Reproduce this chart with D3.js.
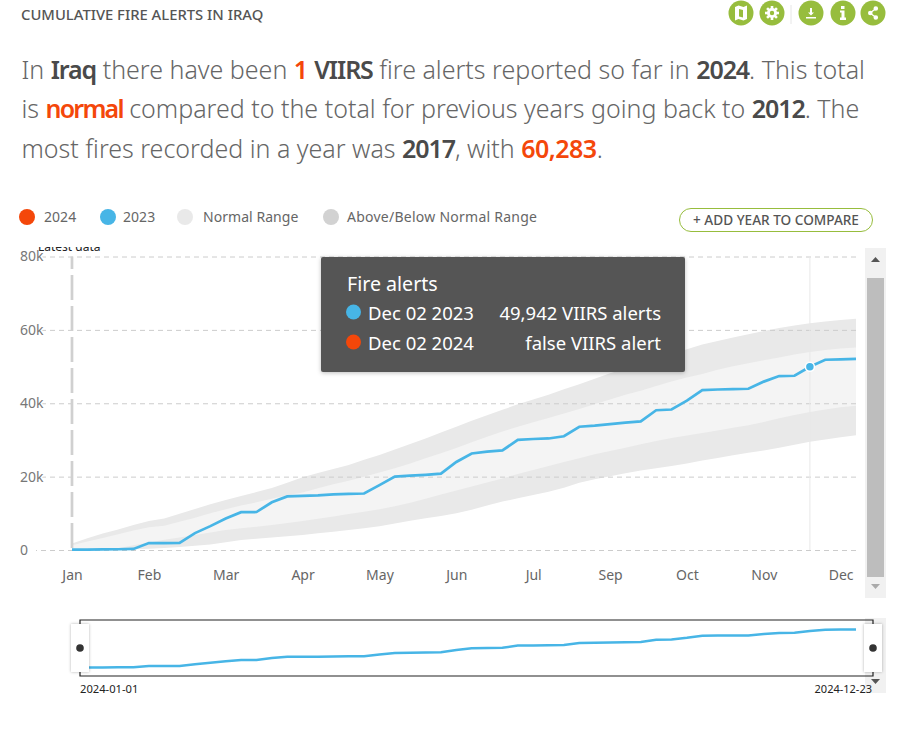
<!DOCTYPE html>
<html>
<head>
<meta charset="utf-8">
<script src="https://cdn.jsdelivr.net/npm/d3@7"></script>
<style>
  html, body { margin: 0; padding: 0; background: #fff; }
  svg { display: block; font-family: "Noto Sans", "Open Sans", sans-serif; }
</style>
</head>
<body>
<svg id="chart" width="910" height="737"></svg>
<script>
const monthLabels = ['Jan', 'Feb', 'Mar', 'Apr', 'May', 'Jun', 'Jul', 'Sep', 'Oct', 'Nov', 'Dec'];
const yTicks = [0, 20000, 40000, 60000, 80000];

// weekly cumulative alerts
const alerts2023 = [100, 120, 150, 200, 300, 1900, 1900, 1950, 4600, 6500, 8600, 10300, 10350, 13000, 14600, 14750, 14900, 15150, 15300, 15400, 17700, 20000, 20250, 20500, 20800, 24000, 26300, 26800, 27150, 30000, 30250, 30400, 31000, 33600, 33900, 34300, 34700, 35050, 38100, 38300, 40700, 43600, 43750, 43850, 43950, 45900, 47400, 47500, 49942, 51850, 51950, 52100];
const upperOuter = [1800, 3200, 4500, 5600, 6800, 7900, 8600, 9900, 11200, 12500, 13600, 14700, 15800, 16900, 18300, 19800, 21000, 22100, 23200, 24600, 25900, 27400, 28900, 30400, 32000, 33600, 35200, 36700, 38200, 39700, 41000, 42300, 43800, 45200, 46700, 48200, 49500, 50800, 52200, 53500, 54700, 56000, 57000, 57900, 58800, 59700, 60500, 61200, 61800, 62300, 62700, 63000];
const upperInner = [1300, 2300, 3300, 4300, 5300, 6200, 6600, 7700, 8800, 10000, 11100, 12100, 13000, 14000, 14900, 15700, 16800, 17900, 18900, 20000, 21100, 22250, 23600, 25000, 26400, 27800, 29400, 30900, 32300, 33600, 34800, 36000, 37200, 38400, 39700, 41000, 42300, 43400, 44700, 45900, 47000, 48000, 49100, 50100, 50900, 51700, 52500, 53300, 54000, 54500, 54900, 55200];
const lowerInner = [0, 100, 200, 500, 1300, 2000, 2800, 3400, 4100, 4800, 5450, 5900, 6350, 6800, 7350, 7900, 8500, 9150, 9800, 10450, 11100, 11900, 12900, 14000, 15100, 16200, 17300, 18400, 19500, 20700, 21800, 22900, 24000, 25000, 26100, 27000, 27900, 28800, 29700, 30500, 31200, 31900, 32600, 33300, 34000, 34900, 35900, 36800, 37600, 38300, 38900, 39300];
const lowerOuter = [0, 50, 100, 150, 200, 350, 550, 800, 1150, 1500, 2100, 2700, 3050, 3400, 3750, 4100, 4550, 5000, 5450, 5950, 6500, 7200, 8000, 8650, 9300, 10000, 11000, 12100, 13200, 14100, 15000, 15900, 17000, 18300, 19300, 20100, 20900, 21700, 22300, 22900, 23600, 24400, 25100, 25800, 26500, 27100, 27900, 28700, 29500, 30100, 30700, 31300];

const legendItems = ['2024', '2023', 'Normal Range', 'Above/Below Normal Range'];
const hoverWeek = 48;

const paragraph = [
  [['In ', 0], ['Iraq', 1], [' there have been ', 0], ['1', 2], [' ', 0], ['VIIRS', 1], [' fire alerts reported so far in ', 0], ['2024', 1], ['. This total', 0]],
  [['is ', 0], ['normal', 3], [' compared to the total for previous years going back to ', 0], ['2012', 1], ['. The', 0]],
  [['most fires recorded in a year was ', 0], ['2017', 1], [', with ', 0], ['60,283', 2], ['.', 0]]
];

const grey = '#555', green = '#97bd3d', blue = '#47b5e6', orange = '#f4470a';
const svg = d3.select('#chart');
const weeks = d3.range(alerts2023.length);

const x = d3.scalePoint().domain(weeks).range([72, 856]);
const y = d3.scaleLinear().domain([0, 80000]).range([550, 256.5]);

// header
svg.append('text').attr('x', 21).attr('y', 20)
  .attr('font-size', 14.8).attr('font-weight', 500).attr('fill', grey)
  .text('CUMULATIVE FIRE ALERTS IN IRAQ');

const iconX = [741, 772, 811, 843, 873];
svg.selectAll('.icon').data(iconX).enter().append('circle')
  .attr('class', 'icon').attr('cx', d => d).attr('cy', 13).attr('r', 12.5).attr('fill', green);
svg.append('line').attr('x1', 791).attr('x2', 791).attr('y1', 5).attr('y2', 24).attr('stroke', '#e6e6e6');
const glyph = (d, tx) => svg.append('path').attr('d', d).attr('transform', `translate(${tx},13)`).attr('fill', '#fff');
glyph('M-6,-6L-2.5,-7.5L2.5,-6L6,-7.5L6,6L2.5,7.5L-2.5,6L-6,7.5Z M-2,-4L2,-3L2,4.5L-2,3.5Z', 741).attr('fill-rule', 'evenodd');
glyph(d3.arc().innerRadius(2.2).outerRadius(5)({startAngle: 0, endAngle: 2 * Math.PI}), 772).attr('fill-rule', 'evenodd');
d3.range(8).forEach(i => svg.append('rect').attr('x', -1.3).attr('y', -7).attr('width', 2.6).attr('height', 3)
  .attr('fill', '#fff').attr('transform', `translate(772,13) rotate(${i * 45})`));
glyph('M-1,-5L1,-5L1,-0.5L3,-0.5L0,2.5L-3,-0.5L-1,-0.5Z M-5,4L5,4L5,5.5L-5,5.5Z', 811);
glyph('M-2,-7L1.5,-7L1.5,-4L-2,-4Z M-3,-2.5L1.5,-2.5L1.5,4.5L3,4.5L3,7L-3,7L-3,4.5L-1.5,4.5L-1.5,-0.5L-3,-0.5Z', 843);
glyph('M-5,0a2.3,2.3 0 1,0 4.6,0a2.3,2.3 0 1,0 -4.6,0 M0.5,-4.5a2.3,2.3 0 1,0 4.6,0a2.3,2.3 0 1,0 -4.6,0 M0.5,4.5a2.3,2.3 0 1,0 4.6,0a2.3,2.3 0 1,0 -4.6,0', 873);
svg.append('path').attr('d', 'M870,13L876,8.5M870,13L876,17.5').attr('stroke', '#fff').attr('stroke-width', 1.3);

// summary sentence
const runStyle = [
  { fill: '#666', weight: 300, spacing: 0 },
  { fill: '#4a4a4a', weight: 600, spacing: -1.1 },
  { fill: orange, weight: 600, spacing: -0.5 },
  { fill: orange, weight: 600, spacing: -1.8 }
];
const lineY = [79, 118, 158];
paragraph.forEach((runs, i) => {
  const t = svg.append('text').attr('x', 21.5).attr('y', lineY[i]).attr('font-size', 25).attr('xml:space', 'preserve');
  runs.forEach(r => t.append('tspan').attr('fill', runStyle[r[1]].fill).attr('font-weight', runStyle[r[1]].weight)
    .attr('letter-spacing', runStyle[r[1]].spacing).text(r[0]));
});

// legend
const legendCx = [27, 108, 185, 331];
const legendTx = [44, 123, 203, 347];
const legendFill = [orange, blue, '#e9e9e9', '#d2d2d2'];
legendItems.forEach((d, i) => {
  svg.append('circle').attr('cx', legendCx[i]).attr('cy', 217).attr('r', 8).attr('fill', legendFill[i]);
  svg.append('text').attr('x', legendTx[i]).attr('y', 222).attr('font-size', 14)
    .attr('letter-spacing', i === 3 ? 0.25 : 0.05).attr('fill', '#666').text(d);
});
svg.append('rect').attr('x', 679.5).attr('y', 208.5).attr('width', 193).attr('height', 23).attr('rx', 11.5)
  .attr('fill', '#fff').attr('stroke', green);
svg.append('text').attr('x', 776).attr('y', 225).attr('text-anchor', 'middle')
  .attr('font-size', 13.6).attr('font-weight', 500).attr('fill', grey).text('+ ADD YEAR TO COMPARE');

// bands
const band = (hi, lo) => d3.area().x(i => x(i)).y0(i => y(lo[i])).y1(i => y(hi[i]));
svg.append('path').attr('d', band(upperOuter, lowerOuter)(weeks)).attr('fill', '#e9e9e9');
svg.append('path').attr('d', band(upperInner, lowerInner)(weeks)).attr('fill', '#f4f4f4');

// axes
const yAxis = svg.append('g').attr('transform', 'translate(856,0)')
  .call(d3.axisLeft(y).tickValues(yTicks).tickSize(820).tickPadding(0)
    .tickFormat(d => d === 0 ? '0' : d / 1000 + 'k'))
  .attr('font-family', null).attr('font-size', 14);
yAxis.select('.domain').remove();
yAxis.selectAll('line').attr('stroke', '#ccc').attr('stroke-dasharray', '5 4');
yAxis.selectAll('text').attr('text-anchor', 'start').attr('x', -836).attr('fill', '#777')
  .attr('stroke', '#fff').attr('stroke-width', 3).attr('paint-order', 'stroke');

const xAxis = svg.append('g').attr('transform', 'translate(0,550)')
  .call(d3.axisBottom(x).tickValues(weeks.filter(i => i % 5 === 0)).tickSize(0).tickPadding(20)
    .tickFormat(i => monthLabels[i / 5]))
  .attr('font-family', null).attr('font-size', 14);
xAxis.select('.domain').remove();
xAxis.selectAll('text').attr('fill', '#666');

// latest data marker, the label is cut off by the chart top
svg.append('clipPath').attr('id', 'topClip').append('rect').attr('x', 0).attr('y', 247).attr('width', 910).attr('height', 400);
svg.append('text').attr('x', 38).attr('y', 251).attr('font-size', 12).attr('fill', '#222')
  .attr('clip-path', 'url(#topClip)').text('Latest data');
svg.append('line').attr('x1', x(0)).attr('x2', x(0)).attr('y1', y(80000)).attr('y2', y(0))
  .attr('stroke', '#d0d0d0').attr('stroke-width', 2.7).attr('stroke-dasharray', '25 6').attr('stroke-dashoffset', 12.5);

// hover line and 2023 series
svg.append('line').attr('x1', x(hoverWeek)).attr('x2', x(hoverWeek)).attr('y1', y(80000)).attr('y2', y(0))
  .attr('stroke', '#e8e8e8');
const line = d3.line().x(i => x(i)).y(i => y(alerts2023[i]));
svg.append('path').attr('d', line(weeks)).attr('fill', 'none').attr('stroke', blue).attr('stroke-width', 2.7);
svg.append('circle').attr('cx', x(hoverWeek)).attr('cy', y(alerts2023[hoverWeek])).attr('r', 4.5)
  .attr('fill', blue).attr('stroke', '#fff').attr('stroke-width', 1.5);

// tooltip
const shadow = svg.append('filter').attr('id', 'shadow').attr('x', '-20%').attr('y', '-20%').attr('width', '140%').attr('height', '140%');
shadow.append('feDropShadow').attr('dx', 0).attr('dy', 1).attr('stdDeviation', 2).attr('flood-opacity', 0.25);
svg.append('rect').attr('x', 321).attr('y', 257).attr('width', 364).attr('height', 115).attr('rx', 2)
  .attr('fill', '#555').attr('filter', 'url(#shadow)');
const tipText = (tx, ty, s, anchor, size) => svg.append('text').attr('x', tx).attr('y', ty).attr('font-size', size || 18.5)
  .attr('fill', '#fff').attr('text-anchor', anchor || 'start').text(s);
tipText(347, 291, 'Fire alerts', 'start', 19.6);
svg.append('circle').attr('cx', 353.5).attr('cy', 312).attr('r', 7.5).attr('fill', blue);
svg.append('circle').attr('cx', 353.5).attr('cy', 342).attr('r', 7.5).attr('fill', orange);
tipText(368, 320, 'Dec 02 2023');
tipText(368, 350, 'Dec 02 2024');
tipText(661, 320, d3.format(',')(alerts2023[hoverWeek]) + ' VIIRS alerts', 'end');
tipText(661, 350, 'false VIIRS alert', 'end');

// scrollbar
svg.append('rect').attr('x', 865).attr('y', 248).attr('width', 21).attr('height', 350).attr('fill', '#f1f1f1');
svg.append('rect').attr('x', 867).attr('y', 278).attr('width', 17).attr('height', 299).attr('fill', '#bdbdbd');
svg.append('path').attr('d', 'M875.5,257L880,262L871,262Z').attr('fill', '#555');
svg.append('path').attr('d', 'M871,584L880,584L875.5,589Z').attr('fill', '#aaa');

// navigator
const xMini = x.copy();
const yMini = d3.scaleLinear().domain([0, 52100]).range([667.5, 629.5]);
svg.append('rect').attr('x', 865).attr('y', 618).attr('width', 21).attr('height', 75).attr('fill', '#f1f1f1');
svg.append('path').attr('d', 'M80,625V620H873V625M80,671V676H873V671').attr('fill', 'none').attr('stroke', '#222').attr('stroke-width', 1.2);
const miniLine = d3.line().x(i => xMini(i)).y(i => yMini(alerts2023[i]));
svg.append('path').attr('d', miniLine(weeks)).attr('fill', 'none').attr('stroke', blue).attr('stroke-width', 2.5);
const handleShadow = svg.append('filter').attr('id', 'handleShadow').attr('x', '-50%').attr('width', '200%');
handleShadow.append('feDropShadow').attr('dx', 0).attr('dy', 0).attr('stdDeviation', 1.5).attr('flood-opacity', 0.3);
[[71, 80], [864, 873]].forEach(h => {
  svg.append('rect').attr('x', h[0]).attr('y', 624).attr('width', 18).attr('height', 48).attr('fill', '#fff').attr('filter', 'url(#handleShadow)');
  svg.append('circle').attr('cx', h[1]).attr('cy', 648).attr('r', 3.8).attr('fill', '#333');
});
svg.append('path').attr('d', 'M871,679L880,679L875.5,684Z').attr('fill', '#555');
svg.append('text').attr('x', 80).attr('y', 692.5).attr('font-size', 11.2).attr('fill', '#222').text('2024-01-01');
svg.append('text').attr('x', 872).attr('y', 692.5).attr('text-anchor', 'end').attr('font-size', 11).attr('fill', '#222').text('2024-12-23');
</script>
</body>
</html>
